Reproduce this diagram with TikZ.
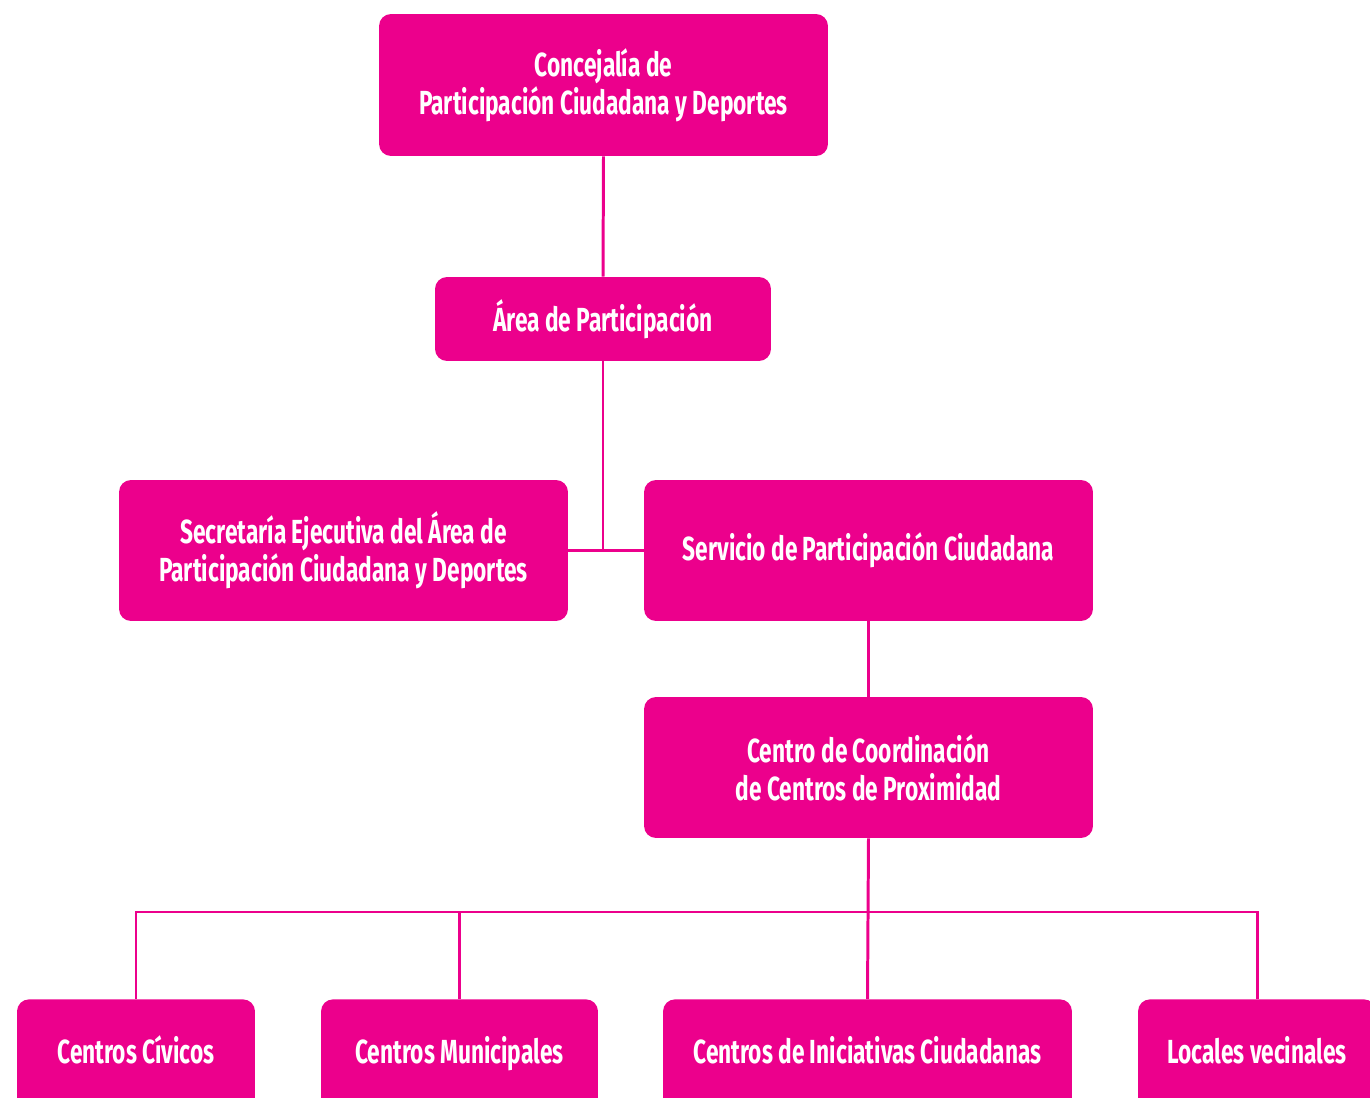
\documentclass[tikz,border=0pt]{standalone}
\usepackage{fontspec}
\setmainfont{Fira Sans}[FakeStretch=0.68]
\definecolor{rosa}{HTML}{EC008C}

\begin{document}
\begin{tikzpicture}[x=0.02cm,y=-0.02cm,
	caja/.style={draw=none, fill=rosa, rounded corners=0.24cm, text=white, align=center,
		font=\fontsize{19}{21.6}\selectfont\bfseries, inner sep=0pt},
	linea/.style={draw=rosa, line width=1.7pt}]
	%%%%% START %%%%%
	
	\clip (0,0) rectangle (1370,1098);
	
	\node[caja, minimum width=8.98cm, minimum height=2.84cm] (conc) at (603.5, 85) {Concejalía de\\Participación Ciudadana y Deportes};
	\node[caja, minimum width=6.72cm, minimum height=1.68cm] (area) at (603, 319) {Área de Participación};
	
	\node[caja, minimum width=8.98cm, minimum height=2.82cm] (secre) at (343.5, 550.5) {Secretaría Ejecutiva del Área de\\Participación Ciudadana y Deportes};
	\node[caja, minimum width=8.98cm, minimum height=2.82cm] (serv) at (868.5, 550.5) {Servicio de Participación Ciudadana};
	
	\node[caja, minimum width=8.98cm, minimum height=2.82cm] (coord) at (868.5, 767.5) {Centro de Coordinación\\de Centros de Proximidad};
	
	\node[caja, minimum width=4.76cm, minimum height=2.4cm, anchor=north] (civ) at (136, 999) {};
	\node[caja, minimum width=5.54cm, minimum height=2.4cm, anchor=north] (mun) at (459.5, 999) {};
	\node[caja, minimum width=8.18cm, minimum height=2.4cm, anchor=north] (ini) at (867.5, 999) {};
	\node[caja, minimum width=4.76cm, minimum height=2.4cm, anchor=north] (loc) at (1257, 999) {};
	
	\node[caja, fill=none, anchor=base] (tciv) at (136, 1063) {Centros Cívicos};
	\node[caja, fill=none, anchor=base] (tmun) at (459.5, 1063) {Centros Municipales};
	\node[caja, fill=none, anchor=base] (tini) at (867.5, 1063) {Centros de Iniciativas Ciudadanas};
	\node[caja, fill=none, anchor=base] (tloc) at (1257, 1063) {Locales vecinales};
	
	\coordinate (bus) at (0, 912);
	
	\draw[linea] (conc.south) -- (area.north);
	\draw[linea] (area.south) -- (area.south |- secre.east);
	\draw[linea] (secre.east) -- (serv.west);
	\draw[linea] (serv.south) -- (coord.north);
	\draw[linea] (coord.south) -- (ini.north);
	\draw[linea] (civ.north) -- (civ.north |- bus) -- (loc.north |- bus) -- (loc.north);
	\draw[linea] (mun.north) -- (mun.north |- bus);
	
	%%%%% END %%%%%
\end{tikzpicture}
\end{document}
